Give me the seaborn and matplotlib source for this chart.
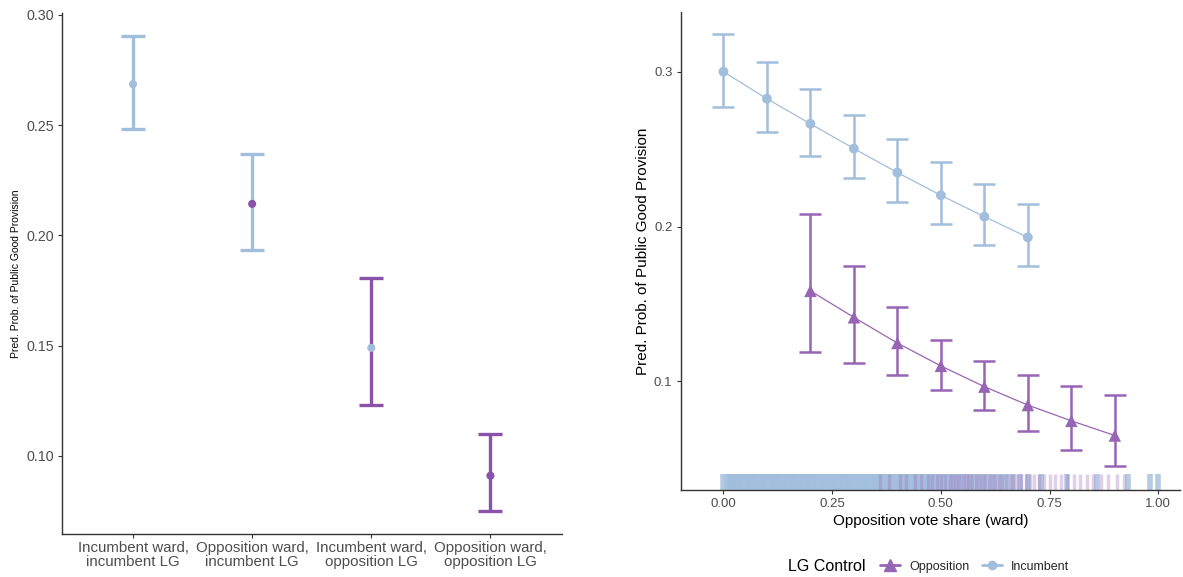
import matplotlib
matplotlib.use("Agg")
import matplotlib.pyplot as plt
import seaborn as sns
import pandas as pd
import numpy as np
from matplotlib.lines import Line2D

# ---------------- data ----------------
left_categories = ["Incumbent ward,\nincumbent LG", "Opposition ward,\nincumbent LG",
                   "Incumbent ward,\nopposition LG", "Opposition ward,\nopposition LG"]
left_est = [0.2686, 0.2143, 0.1490, 0.0910]
left_lo = [0.2482, 0.1932, 0.1230, 0.0748]
left_hi = [0.2905, 0.2368, 0.1805, 0.1100]
left_bar_group = ["Incumbent", "Incumbent", "Opposition", "Opposition"]   # LG control
left_point_group = ["Incumbent", "Opposition", "Incumbent", "Opposition"]  # ward

inc_x = [0.0, 0.1, 0.2, 0.3, 0.4, 0.5, 0.6, 0.7]
inc_est = [0.3002, 0.2827, 0.2665, 0.2505, 0.2350, 0.2203, 0.2065, 0.1931]
inc_lo = [0.2773, 0.2613, 0.2460, 0.2313, 0.2160, 0.2019, 0.1879, 0.1745]
inc_hi = [0.3244, 0.3063, 0.2888, 0.2719, 0.2566, 0.2419, 0.2279, 0.2147]

opp_x = [0.2, 0.3, 0.4, 0.5, 0.6, 0.7, 0.8, 0.9]
opp_est = [0.1585, 0.1414, 0.1248, 0.1100, 0.0966, 0.0847, 0.0745, 0.0650]
opp_lo = [0.1188, 0.1117, 0.1039, 0.0942, 0.0816, 0.0682, 0.0557, 0.0454]
opp_hi = [0.2082, 0.1745, 0.1482, 0.1270, 0.1132, 0.1039, 0.0968, 0.0914]

rug_incumbent = [0.000, 0.008, 0.013, 0.018, 0.022, 0.026, 0.031, 0.036, 0.041, 0.046,
                 0.051, 0.056, 0.061, 0.066, 0.071, 0.076, 0.081, 0.086, 0.091, 0.096,
                 0.101, 0.106, 0.111, 0.116, 0.121, 0.126, 0.131, 0.137, 0.142, 0.147,
                 0.152, 0.158, 0.163, 0.168, 0.173, 0.179, 0.184, 0.189, 0.195, 0.200,
                 0.205, 0.211, 0.216, 0.222, 0.227, 0.232, 0.238, 0.243, 0.249, 0.254,
                 0.259, 0.265, 0.270, 0.276, 0.281, 0.287, 0.292, 0.298, 0.303, 0.309,
                 0.314, 0.320, 0.326, 0.331, 0.337, 0.342, 0.348, 0.354, 0.359, 0.365,
                 0.371, 0.376, 0.382, 0.388, 0.394, 0.399, 0.405, 0.411, 0.417, 0.423,
                 0.429, 0.434, 0.440, 0.446, 0.452, 0.458, 0.464, 0.470, 0.476, 0.483,
                 0.489, 0.495, 0.501, 0.508, 0.515, 0.522, 0.529, 0.536, 0.544, 0.552,
                 0.560, 0.568, 0.577, 0.586, 0.596, 0.606, 0.617, 0.628, 0.640, 0.653,
                 0.667, 0.682, 0.700, 0.730, 0.790, 0.860, 0.930, 0.980, 1.000]
rug_opposition = [0.360, 0.380, 0.405, 0.420, 0.440, 0.455, 0.470, 0.480, 0.490, 0.500,
                  0.510, 0.520, 0.528, 0.535, 0.542, 0.550, 0.557, 0.565, 0.572, 0.580,
                  0.587, 0.595, 0.602, 0.610, 0.617, 0.625, 0.633, 0.641, 0.650, 0.658,
                  0.667, 0.676, 0.685, 0.695, 0.705, 0.715, 0.726, 0.738, 0.750, 0.763,
                  0.777, 0.790, 0.805, 0.820, 0.835, 0.850, 0.868, 0.885, 0.905, 0.920]

# ---------------- style ----------------
sns.set_theme(style="ticks")
plt.rcParams['font.family'] = ['Liberation Sans', 'DejaVu Sans']

BLUE = "#A2BEDD"
PURPLE_L = "#8A52A8"
PURPLE_R = "#9865B5"
colors_left = {"Incumbent": BLUE, "Opposition": PURPLE_L}
TICK_GREY = "#4D4D4D"

fig = plt.figure(figsize=(11.83, 5.77), dpi=100)
axL = fig.add_axes([0.052, 0.0745, 0.475 - 0.052, 0.9775 - 0.0745])
axR = fig.add_axes([0.5755, 0.1508, 0.9975 - 0.5755, 0.979 - 0.1508])

# ---------------- left panel ----------------
dfL = pd.DataFrame({"cat": left_categories, "est": left_est, "lo": left_lo, "hi": left_hi,
                    "bar": left_bar_group, "pt": left_point_group})
xpos = np.arange(len(left_categories))
for i, row in dfL.iterrows():
    axL.errorbar(xpos[i], row.est, yerr=[[row.est - row.lo], [row.hi - row.est]],
                 fmt="none", ecolor=colors_left[row.bar], elinewidth=2.4,
                 capsize=8.5, capthick=2.4, zorder=2)
dfL["x"] = xpos
sns.scatterplot(data=dfL, x="x", y="est", hue="pt", palette=colors_left, s=34,
                edgecolor="none", legend=False, ax=axL, zorder=3)
axL.set_xlim(-0.6, 3.6)
axL.set_ylim(0.06455, 0.3009)
axL.set_xticks(xpos)
axL.set_xticklabels(left_categories, fontsize=10.8, color=TICK_GREY, linespacing=1.0)
axL.set_yticks([0.10, 0.15, 0.20, 0.25, 0.30])
axL.set_yticklabels(["0.10", "0.15", "0.20", "0.25", "0.30"], fontsize=10.3, color=TICK_GREY)
axL.set_xlabel("")
axL.set_ylabel("Pred. Prob. of Public Good Provision", fontsize=7.5, color="black")
axL.yaxis.set_label_coords(-0.081, 0.5)
axL.tick_params(axis="both", length=3, width=0.8, color="#333333", pad=2)
for s in ["top", "right"]:
    axL.spines[s].set_visible(False)
for s in ["left", "bottom"]:
    axL.spines[s].set_linewidth(1.0)
    axL.spines[s].set_color("#333333")

# ---------------- right panel ----------------
dfI = pd.DataFrame({"x": inc_x, "est": inc_est, "lo": inc_lo, "hi": inc_hi})
dfO = pd.DataFrame({"x": opp_x, "est": opp_est, "lo": opp_lo, "hi": opp_hi})

for df, col in [(dfI, BLUE), (dfO, PURPLE_R)]:
    axR.errorbar(df.x, df.est, yerr=[df.est - df.lo, df.hi - df.est], fmt="none",
                 ecolor=col, elinewidth=1.8, capsize=7.7, capthick=1.8, zorder=2)
sns.lineplot(data=dfI, x="x", y="est", color=BLUE, lw=0.9, ax=axR, zorder=3)
sns.lineplot(data=dfO, x="x", y="est", color=PURPLE_R, lw=0.9, ax=axR, zorder=3)
sns.scatterplot(data=dfI, x="x", y="est", color=BLUE, marker="o", s=50,
                edgecolor="none", ax=axR, zorder=4)
sns.scatterplot(data=dfO, x="x", y="est", color=PURPLE_R, marker="^", s=80,
                edgecolor="none", ax=axR, zorder=4)

sns.rugplot(x=rug_incumbent, height=0.034, color=BLUE, alpha=0.8, linewidth=4.0,
            expand_margins=False, ax=axR)
sns.rugplot(x=rug_opposition, height=0.034, color=PURPLE_R, alpha=0.3, linewidth=2.5,
            expand_margins=False, ax=axR)

axR.set_xlim(-0.098, 1.05)
axR.set_ylim(0.0298, 0.3387)
axR.set_xticks([0.0, 0.25, 0.5, 0.75, 1.0])
axR.set_xticklabels(["0.00", "0.25", "0.50", "0.75", "1.00"], fontsize=9.5, color=TICK_GREY)
axR.set_yticks([0.1, 0.2, 0.3])
axR.set_yticklabels(["0.1", "0.2", "0.3"], fontsize=9.5, color=TICK_GREY)
axR.set_xlabel("Opposition vote share (ward)", fontsize=11, color="black", labelpad=3)
axR.set_ylabel("Pred. Prob. of Public Good Provision", fontsize=11, color="black", labelpad=3)
axR.tick_params(axis="both", length=3, width=0.8, color="#333333", pad=3)
for s in ["top", "right"]:
    axR.spines[s].set_visible(False)
for s in ["left", "bottom"]:
    axR.spines[s].set_linewidth(1.0)
    axR.spines[s].set_color("#333333")

# ---------------- legend ----------------
handles = [Line2D([0], [0], color=PURPLE_R, marker="^", markersize=8, lw=2),
           Line2D([0], [0], color=BLUE, marker="o", markersize=6, lw=2)]
fig.text(0.666, 0.018, "LG Control", fontsize=11.5, color="black", ha="left", va="center")
fig.legend(handles, ["Opposition", "Incumbent"], loc="center left",
           bbox_to_anchor=(0.739, 0.018), ncol=2, frameon=False, fontsize=9,
           handlelength=1.6, handletextpad=0.7, columnspacing=1.0, borderpad=0)

fig.savefig("out.png", dpi=100)
